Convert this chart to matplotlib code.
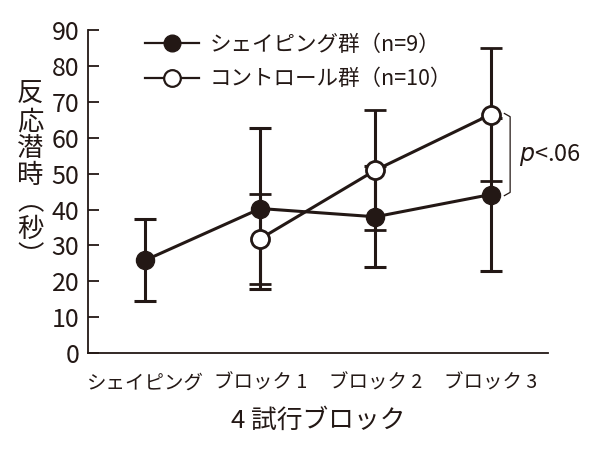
import matplotlib
matplotlib.use("Agg")
import matplotlib.pyplot as plt
from matplotlib.lines import Line2D
import numpy as np

plt.rcParams['font.family'] = ['Noto Sans CJK JP', 'DejaVu Sans']

# --- data ---
blocks = ["シェイピング", "ブロック 1", "ブロック 2", "ブロック 3"]

shaping_x = [0, 1, 2, 3]
shaping_mean = [25.9, 40.3, 38.0, 44.2]
shaping_err = [11.5, 22.4, 14.1, 21.4]

control_x = [1, 2, 3]
control_mean = [31.9, 51.0, 66.5]
control_err = [12.5, 16.7, 18.6]

labels = ["シェイピング群（n=9）", "コントロール群（n=10）"]

ink = "#231815"

fig = plt.figure(figsize=(6.01, 4.58), dpi=100)
ax = fig.add_axes([0.146, 0.229, 0.766, 0.705])

ax.errorbar(shaping_x, shaping_mean, yerr=shaping_err, color=ink, lw=2.2,
            marker="o", ms=13, mfc=ink, mec=ink, capsize=8, capthick=2.2,
            elinewidth=2.2, zorder=3)
ax.errorbar(control_x, control_mean, yerr=control_err, color=ink, lw=2.2,
            marker="o", ms=13, mfc="white", mec=ink, mew=2, capsize=8,
            capthick=2.2, elinewidth=2.2, zorder=4)

ax.set_xlim(-0.5, 3.5)
ax.set_ylim(0, 90)
ax.set_yticks(np.arange(0, 91, 10))
ax.set_xticks(range(len(blocks)))
ax.set_xticklabels(blocks, fontsize=14, color=ink)
ax.tick_params(axis="y", direction="in", length=8, width=1.3, labelsize=18,
               colors=ink, pad=6)
ax.tick_params(axis="x", length=0, pad=14)
for s in ["top", "right"]:
    ax.spines[s].set_visible(False)
for s in ["left", "bottom"]:
    ax.spines[s].set_linewidth(1.3)
    ax.spines[s].set_color(ink)

ax.set_xlabel("4 試行ブロック", fontsize=18.5, color=ink, labelpad=10)
fig.text(0.05, 0.41, "\n".join("反応潜時") + "\n︵\n秒\n︶", fontsize=19, color=ink,
         ha="center", va="bottom", linespacing=1.0)

# significance bracket
bx = 3.12
yt, yb = control_mean[2], shaping_mean[3]
ax.plot([bx, bx + 0.05, bx + 0.05, bx], [yt + 0.3, yt - 0.6, yb + 0.6, yb - 0.3],
        color=ink, lw=0.9)
ax.text(bx + 0.13, (yt + yb) / 2, "$\\it{p}$<.06", fontsize=17, color=ink,
        va="center", ha="left")

handles = [
    Line2D([], [], color=ink, lw=1.6, marker="o", ms=12, mfc=ink, mec=ink),
    Line2D([], [], color=ink, lw=1.6, marker="o", ms=12, mfc="white", mec=ink, mew=1.6),
]
leg = ax.legend(handles, labels, loc="upper left", bbox_to_anchor=(0.083, 1.05),
                frameon=False, fontsize=15.5, handlelength=2.5, labelspacing=0.6,
                handletextpad=0.5)
for t in leg.get_texts():
    t.set_color(ink)

fig.savefig("out.png", dpi=100)
